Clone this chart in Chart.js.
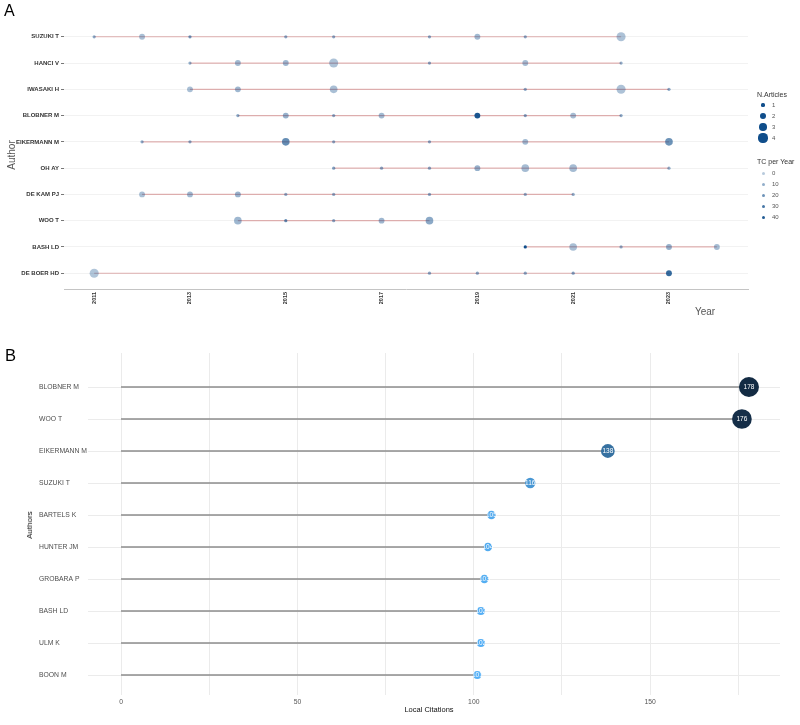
<!DOCTYPE html>
<html><head><meta charset="utf-8">
<script src="https://cdn.jsdelivr.net/npm/chart.js@4.4.1/dist/chart.umd.min.js"></script>
<style>
html,body{margin:0;padding:0;background:#fff;width:800px;height:725px;overflow:hidden;font-family:"Liberation Sans",Arial,sans-serif;}
#wrapA{position:absolute;left:0;top:0;width:800px;height:325px;}
#wrapB{position:absolute;left:0;top:330px;width:800px;height:395px;}
.t{position:absolute;white-space:nowrap;line-height:1;}
.c{position:absolute;white-space:nowrap;line-height:1;transform:translate(-50%,-50%);}
.r{position:absolute;white-space:nowrap;line-height:1;transform:translate(-50%,-50%) rotate(-90deg);}
.dot{position:absolute;border-radius:50%;}
</style></head><body>
<div id="wrapA"><canvas id="chartA"></canvas></div>
<div id="wrapB"><canvas id="chartB"></canvas></div>
<div class="t" style="left:4px;top:3px;font-size:16px;color:#000">A</div>
<div class="t" style="left:5px;top:347px;font-size:16.5px;color:#000">B</div>
<div class="r" style="left:12px;top:155px;font-size:10px;color:#555">Author</div>
<div class="c" style="left:705px;top:312px;font-size:10px;color:#555">Year</div>
<div class="r" style="left:30px;top:525px;font-size:8px;color:#111">Authors</div>
<div class="c" style="left:429px;top:710px;font-size:7.5px;color:#111">Local Citations</div>
<div id="legend"></div>
<script>
// ---------- Panel A data ----------
const authorsA = ['SUZUKI T','HANCI V','IWASAKI H','BLOBNER M','EIKERMANN M','OH AY','DE KAM PJ','WOO T','BASH LD','DE BOER HD'];
const yearsA = [
  [2011,2012,2013,2015,2016,2018,2019,2020,2022],
  [2013,2014,2015,2016,2018,2020,2022],
  [2013,2014,2016,2020,2022,2023],
  [2014,2015,2016,2017,2019,2020,2021,2022],
  [2012,2013,2015,2016,2018,2020,2023],
  [2016,2017,2018,2019,2020,2021,2023],
  [2012,2013,2014,2015,2016,2018,2020,2021],
  [2014,2015,2016,2017,2018],
  [2020,2021,2022,2023,2024],
  [2011,2018,2019,2020,2021,2023]
];
const articlesA = [
  [1,2,1,1,1,1,2,1,4],
  [1,2,2,4,1,2,1],
  [2,2,3,1,4,1],
  [1,2,1,2,2,1,2,1],
  [1,1,3,1,1,2,3],
  [1,1,1,2,3,3,1],
  [2,2,2,1,1,1,1,1],
  [3,1,1,2,3],
  [1,3,1,2,2],
  [4,1,1,1,1,2]
];
const tcA = [
  [12,4,18,12,12,12,6,12,3],
  [10,6,7,3,12,5,10],
  [4,7,4,12,3,12],
  [12,9,12,6,42,14,5,12],
  [12,12,22,12,12,6,20],
  [14,12,12,9,5,5,10],
  [4,6,8,10,10,12,10,10],
  [7,22,12,7,12],
  [45,4,10,9,5],
  [2,12,12,12,14,35]
];
const yearTicksA = [2011,2013,2015,2017,2019,2021,2023];
const legendArticles = [1,2,3,4];
const legendTC = [0,10,20,30,40];

// ---------- Panel B data ----------
const authorsB = ['BLOBNER M','WOO T','EIKERMANN M','SUZUKI T','BARTELS K','HUNTER JM','GROBARA P','BASH LD','ULM K','BOON M'];
const citationsB = [178,176,138,116,105,104,103,102,102,101];
const xTicksB = [0,25,50,75,100,125,150,175];

const FAMILY = '"Liberation Sans", Arial, sans-serif';
Chart.defaults.font.family = FAMILY;
Chart.defaults.animation = false;

// ---------- helpers ----------
const tcMax = Math.max(...tcA.flat());
function alphaTC(tc){ return 0.3 + 0.7 * tc / tcMax; }
function colorTC(tc){ return 'rgba(16,78,139,' + alphaTC(tc).toFixed(3) + ')'; }
function radiusN(n){ return 1.08 * Math.sqrt(Math.max(0.5, -2.88 + 5.13 * n)); }

const bMin = Math.min(...citationsB), bMax = Math.max(...citationsB);
function colorB(v){
  const t = (v - bMin) / (bMax - bMin);
  const lo = [86,177,247], hi = [19,43,67];
  const c = lo.map((l,k)=>Math.round(l + (hi[k]-l)*t));
  return 'rgb(' + c.join(',') + ')';
}
function radiusB(v){ return 4 + 6 * (v - bMin) / (bMax - bMin); }

// ---------- Chart A ----------
const pointsA = [];
authorsA.forEach((a,i)=>yearsA[i].forEach((yr,j)=>pointsA.push({x:yr, y:i, n:articlesA[i][j], tc:tcA[i][j]})));
const linesA = authorsA.map((a,i)=>({
  data:[{x:Math.min(...yearsA[i]), y:i},{x:Math.max(...yearsA[i]), y:i}],
  showLine:true, borderColor:'rgba(178,34,34,0.33)', borderWidth:1.2, pointRadius:0, order:2
}));

new Chart(document.getElementById('chartA'), {
  type:'scatter',
  data:{ datasets:[
    { data:pointsA, order:1, borderWidth:0,
      pointRadius: ctx => radiusN(ctx.raw.n),
      backgroundColor: ctx => colorTC(ctx.raw.tc) },
    ...linesA
  ]},
  options:{
    responsive:true, maintainAspectRatio:false, events:[],
    layout:{ padding:{ left:0, right:52, top:21, bottom:0 } },
    plugins:{ legend:{display:false}, tooltip:{enabled:false} },
    scales:{
      x:{ type:'linear', min:2010.37, max:2024.65,
        afterBuildTicks: s => { s.ticks = yearTicksA.map(v=>({value:v})); },
        afterFit: s => { s.height = 36; },
        ticks:{ autoSkip:false, minRotation:90, maxRotation:90, padding:3, color:'#333',
          font:{ size:5.5, weight:'bold' }, callback: v => String(v) },
        grid:{ display:false, drawTicks:false },
        border:{ display:true, color:'#c4c4c4', width:1 } },
      y:{ type:'linear', reverse:true, min:-0.6, max:9.6,
        afterBuildTicks: s => { s.ticks = authorsA.map((_,i)=>({value:i})); },
        afterFit: s => { s.width = 64; },
        ticks:{ autoSkip:false, padding:2, color:'#333', font:{ size:6, weight:'bold' },
          callback: v => authorsA[v] },
        grid:{ color:'#f2f2f2', lineWidth:1, drawTicks:true, tickLength:3, tickColor:'#777' },
        border:{ display:false } }
    }
  }
});

// ---------- Chart B ----------
const stemsB = authorsB.map((a,i)=>({
  data:[{x:0, y:i},{x:citationsB[i], y:i}],
  showLine:true, borderColor:'#8c8c8c', borderWidth:1.3, pointRadius:0, order:2
}));
const labelPlugin = {
  id:'pointLabels',
  afterDatasetsDraw(chart){
    const meta = chart.getDatasetMeta(0);
    const ctx = chart.ctx;
    ctx.save();
    ctx.fillStyle = '#ffffff';
    ctx.font = '6.5px ' + FAMILY;
    ctx.textAlign = 'center';
    ctx.textBaseline = 'middle';
    meta.data.forEach((el,i)=>{ ctx.fillText(String(citationsB[i]), el.x, el.y + 0.5); });
    ctx.restore();
  }
};
new Chart(document.getElementById('chartB'), {
  type:'scatter',
  data:{ datasets:[
    { data: citationsB.map((v,i)=>({x:v, y:i})), order:1, borderWidth:0,
      pointRadius: ctx => radiusB(citationsB[ctx.dataIndex]),
      backgroundColor: ctx => colorB(citationsB[ctx.dataIndex]) },
    ...stemsB
  ]},
  plugins:[labelPlugin],
  options:{
    responsive:true, maintainAspectRatio:false, events:[],
    layout:{ padding:{ left:39, right:20, top:23, bottom:0 } },
    plugins:{ legend:{display:false}, tooltip:{enabled:false} },
    scales:{
      x:{ type:'linear', min:-9.36, max:186.8,
        afterBuildTicks: s => { s.ticks = xTicksB.map(v=>({value:v})); },
        afterFit: s => { s.height = 30; },
        ticks:{ autoSkip:false, maxRotation:0, padding:3, color:'#555', font:{ size:6.8 },
          callback: v => (v % 50 === 0 ? String(v) : '') },
        grid:{ color:'#ebebeb', lineWidth:1, drawTicks:false },
        border:{ display:false } },
      y:{ type:'linear', reverse:true, min:-1.0625, max:9.625,
        afterBuildTicks: s => { s.ticks = authorsB.map((_,i)=>({value:i})); },
        afterFit: s => { s.width = 49; },
        ticks:{ autoSkip:false, crossAlign:'far', padding:0, color:'#4d4d4d', font:{ size:6.8 },
          callback: v => authorsB[v] },
        grid:{ color:'#ebebeb', lineWidth:1, drawTicks:false },
        border:{ display:false } }
    }
  }
});

// ---------- Legends (panel A) ----------
const leg = document.getElementById('legend');
function addText(txt, x, y, size, color){
  const d = document.createElement('div');
  d.className = 't'; d.textContent = txt;
  d.style.left = x + 'px'; d.style.top = (y - size/2) + 'px';
  d.style.fontSize = size + 'px'; d.style.color = color;
  leg.appendChild(d);
}
function addDot(cx, cy, r, color){
  const d = document.createElement('div');
  d.className = 'dot';
  d.style.left = (cx - r) + 'px'; d.style.top = (cy - r) + 'px';
  d.style.width = (2*r) + 'px'; d.style.height = (2*r) + 'px';
  d.style.background = color;
  leg.appendChild(d);
}
addText('N.Articles', 757, 94, 7, '#333');
legendArticles.forEach((n,k)=>{
  const cy = 105 + k * 11;
  addDot(763, cy, radiusN(n), 'rgb(16,78,139)');
  addText(String(n), 772, cy, 6, '#555');
});
addText('TC per Year', 757, 161, 7, '#333');
legendTC.forEach((tc,k)=>{
  const cy = 173 + k * 11;
  addDot(763, cy, 1.5, colorTC(tc));
  addText(String(tc), 772, cy, 6, '#555');
});
</script>
</body></html>
